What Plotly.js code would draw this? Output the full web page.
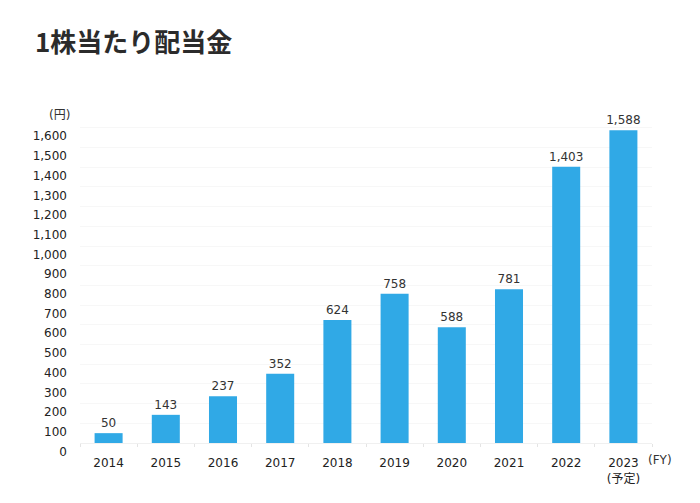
<!DOCTYPE html>
<html>
<head>
<meta charset="utf-8">
<script src="https://cdn.plot.ly/plotly-3.0.1.min.js"></script>
<style>
html,body{margin:0;padding:0;background:#fff;}
#chart{width:700px;height:503px;}
</style>
</head>
<body>
<div id="chart"></div>
<script>
const years = ["2014","2015","2016","2017","2018","2019","2020","2021","2022","2023<br>(予定)"];
const dividends = [50, 143, 237, 352, 624, 758, 588, 781, 1403, 1588];
const yTickVals = [0,100,200,300,400,500,600,700,800,900,1000,1100,1200,1300,1400,1500,1600];
const yTickText = yTickVals.map(v => v.toLocaleString("en-US"));
const valueLabels = dividends.map(v => v.toLocaleString("en-US"));

const font = "'Noto Sans CJK JP', 'Noto Sans', sans-serif";
const numFont = "'DejaVu Sans', 'Noto Sans CJK JP', sans-serif";

const trace = {
  type: "bar",
  x: years,
  y: dividends,
  text: valueLabels,
  textposition: "outside",
  constraintext: "none",
  cliponaxis: false,
  textfont: {family: numFont, size: 12, color: "#333"},
  marker: {color: "#30a9e6"},
  hoverinfo: "none"
};

const layout = {
  width: 700,
  height: 503,
  margin: {l: 80, r: 48, t: 118, b: 60},
  paper_bgcolor: "#fff",
  plot_bgcolor: "#fff",
  bargap: 0.51,
  showlegend: false,
  font: {family: numFont, color: "#333", size: 12},
  xaxis: {
    type: "category",
    tickson: "boundaries",
    ticks: "outside",
    ticklen: 3,
    tickcolor: "#e4e4e4",
    showline: true,
    linecolor: "#f0f0f0",
    showgrid: false,
    ticklabelstandoff: 9,
    tickfont: {family: numFont, size: 12, color: "#222"},
    fixedrange: true
  },
  yaxis: {
    range: [0, 1650],
    tickvals: yTickVals,
    ticktext: yTickText,
    ticklabelposition: "outside bottom",
    showgrid: true,
    gridcolor: "#f7f7f7",
    zeroline: false,
    showline: false,
    ticks: "",
    ticklabelstandoff: 12,
    tickfont: {family: numFont, size: 12, color: "#222"},
    fixedrange: true
  },
  annotations: [
    {text: "1株当たり配当金", xref: "paper", yref: "paper", x: -0.083, y: 1.24, xanchor: "left", yanchor: "middle",
     showarrow: false, font: {family: font, size: 26, color: "#2b2b2b", weight: "bold"}},
    {text: "(円)", xref: "paper", yref: "paper", x: -0.014, y: 1.01, xanchor: "right", yanchor: "middle",
     showarrow: false, font: {family: numFont, size: 12, color: "#333"}},
    {text: "(FY)", xref: "paper", yref: "paper", x: 0.99, y: -0.052, xanchor: "left", yanchor: "middle",
     showarrow: false, font: {family: numFont, size: 12, color: "#333"}}
  ]
};

Plotly.newPlot("chart", [trace], layout, {displayModeBar: false, staticPlot: true});
</script>
</body>
</html>
